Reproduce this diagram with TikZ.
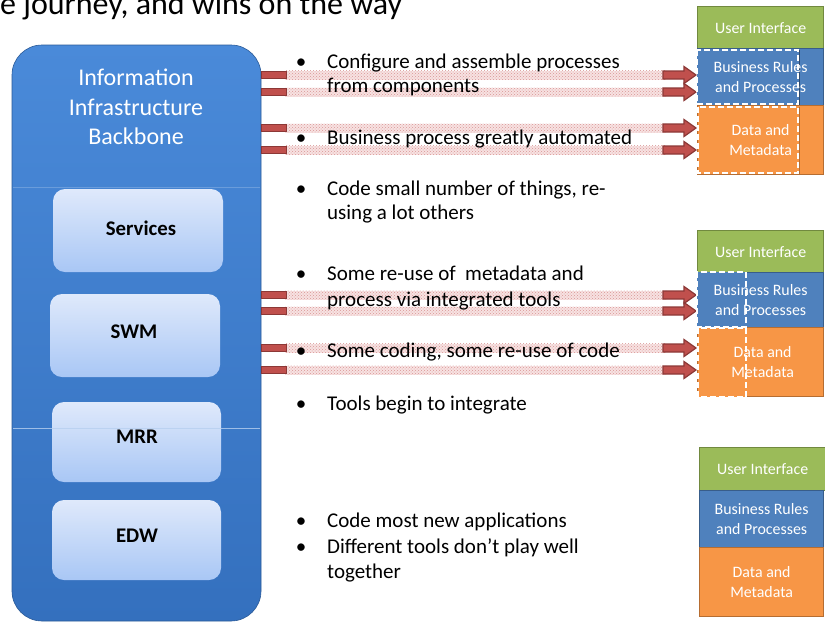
\documentclass[tikz,border=0pt]{standalone}
\usepackage{fontspec}
\setmainfont{Carlito}
\usetikzlibrary{patterns,calc}
\definecolor{uiF}{HTML}{9BBB59}\definecolor{uiB}{HTML}{71893F}
\definecolor{brF}{HTML}{4F81BD}\definecolor{brB}{HTML}{385D8A}
\definecolor{dmF}{HTML}{F79646}\definecolor{dmB}{HTML}{B66D31}
\definecolor{bbTop}{HTML}{4A8AD9}\definecolor{bbBot}{HTML}{3470BE}
\definecolor{inTop}{HTML}{DFE9FB}\definecolor{inBot}{HTML}{A9C7F5}
\definecolor{arrD}{HTML}{8C3836}\definecolor{arrF}{HTML}{C0504D}
\definecolor{bandF}{HTML}{F7E2E2}\definecolor{bandP}{HTML}{D99694}
\tikzset{
  stackfont/.style={font=\fontsize{15.9}{19.5}\selectfont},
  stackbox/.style={anchor=north west, inner sep=0, minimum width=126, line width=1.3, text=white, align=center, stackfont},
  uibox/.style={stackbox, draw=uiB, fill=uiF},
  brbox/.style={stackbox, draw=brB, fill=brF},
  dmbox/.style={stackbox, draw=dmB, fill=dmF},
  stacklabel/.style={text=white, align=center, stackfont, inner sep=0},
  frontdash/.style={draw=white, dashed, dash pattern=on 6pt off 3pt, line width=1.6},
  innerbox/.style={rounded corners=12, top color=inTop, bottom color=inBot, draw=none},
  boxlabel/.style={font=\fontsize{20.8}{24}\selectfont\bfseries, anchor=base, inner sep=0},
  bbtext/.style={font=\fontsize{24}{28}\selectfont, text=white, anchor=base, inner sep=0},
  btext/.style={font=\fontsize{21}{25}\selectfont, anchor=base west, inner sep=0},
  bul/.style={font=\fontsize{21}{25}\selectfont, anchor=base, inner sep=0},
  stubred/.style={fill=arrF, draw=arrD, line width=0.9},
  arrred/.style={fill=arrF, draw=arrD, line width=1.2, line join=miter},
}
\begin{document}
\begin{tikzpicture}[x=1pt,y=-1pt]
\useasboundingbox (0,0) rectangle (825,630);
\clip (0,0) rectangle (825,630);
\fill[white] (0,0) rectangle (825,630);

% title (cut by the top edge, as in the reference)
\node[anchor=base west, inner sep=0, font=\fontsize{32}{36}\selectfont] (title) at (0,14) {e journey, and wins on the way};

% backbone
\shade[rounded corners=30, top color=bbTop, bottom color=bbBot, draw=bbBot!80!black, line width=0.6] (12,45) rectangle (261,621);
\coordinate (bb) at (261,330);
\draw[white, opacity=0.2, line width=0.8] (13,187) -- (260,187);
\node[bbtext] (bb1) at (136,85) {Information};
\node[bbtext] (bb2) at (136,115) {Infrastructure};
\node[bbtext] (bb3) at (136,144) {Backbone};

% inner boxes
\shade[innerbox] (53,189) rectangle (223,272);
\shade[innerbox] (50,294) rectangle (220,377);
\shade[innerbox] (52,402) rectangle (221,482);
\shade[innerbox] (52,500) rectangle (221,580);
\draw[white!60!bbTop, opacity=0.8, line width=0.8] (13,428) -- (260,428);
\node[boxlabel] (svc) at (141,235) {Services};
\node[boxlabel] (swm) at (134,338) {SWM};
\node[boxlabel] (mrr) at (137,443) {MRR};
\node[boxlabel] (edw) at (137,542) {EDW};

% arrows
\foreach \yy [count=\i] in {75,92,128,150,295,311,348,370} {
  \coordinate (L\i) at (261,\yy);
  \coordinate (R\i) at (696,\yy);
  \fill[bandF] ($(L\i)+(24,-4.5)$) rectangle ($(R\i)+(-30,4.5)$);
  \fill[pattern=crosshatch dots, pattern color=bandP] ($(L\i)+(24,-4.5)$) rectangle ($(R\i)+(-30,4.5)$);
  \draw[stubred] ($(L\i)+(0,-3.5)$) rectangle ($(L\i)+(25,3.5)$);
  \draw[arrred] (R\i) -- ++(-12,-8.5) -- ++(0,4.5) -- ++(-21,0) -- ++(0,8) -- ++(21,0) -- ++(0,4.5) -- cycle;
}

% bullet text
\foreach \yy in {68,144,195,280,357,410,527,553} {\node[bul] at (301,\yy) {•};}
\node[btext] (t1a) at (327,68) {Configure and assemble processes};
\node[btext] (t1b) at (327,92) {from components};
\node[btext] (t2) at (327,144) {Business process greatly automated};
\node[btext] (t3a) at (327,195) {Code small number of things, re-};
\node[btext] (t3b) at (327,219) {using a lot others};
\node[btext] (t4a) at (327,280) {Some re-use of \ metadata and};
\node[btext] (t4b) at (327,306) {process via integrated tools};
\node[btext] (t5) at (327,357) {Some coding, some re-use of code};
\node[btext] (t6) at (327,410) {Tools begin to integrate};
\node[btext] (t7) at (327,527) {Code most new applications};
\node[btext] (t8a) at (327,553) {Different tools don’t play well};
\node[btext] (t8b) at (327,578) {together};

% stack 1
\node[uibox, minimum height=42] (ui1) at (697,6) {User Interface};
\node[brbox, minimum height=57] (br1) at (697,48) {};
\node[dmbox, minimum height=69] (dm1) at (697,105) {};
\fill[brF] (697,50) rectangle (798,104);
\draw[brB!80!black, line width=1] (799.5,50) -- (799.5,105);
\draw[frontdash] (697,50) rectangle (798,104);
\fill[dmF] (698,107) rectangle (798,173);
\draw[dmB, line width=1] (799.5,107) -- (799.5,174);
\draw[frontdash] (698,107) rectangle (798,173);
\node[stacklabel] (br1t) at (br1.center) {Business Rules\\and Processes};
\node[stacklabel] (dm1t) at (dm1.center) {Data and\\Metadata};

% stack 2
\node[uibox, minimum height=42] (ui2) at (697,230) {User Interface};
\node[brbox, minimum height=55] (br2) at (697,272) {};
\node[dmbox, minimum height=69] (dm2) at (697,327) {};
\fill[brF] (697,272) rectangle (746,327);
\draw[frontdash] (697,272) rectangle (746,327);
\fill[dmF] (698,328) rectangle (746,397);
\draw[frontdash] (698,328) rectangle (746,397);
\node[stacklabel] (br2t) at (br2.center) {Business Rules\\and Processes};
\node[stacklabel] (dm2t) at ($(dm2.center)+(2,0)$) {Data and\\Metadata};

% stack 3
\node[uibox, minimum height=43] (ui3) at (699,447) {User Interface};
\node[brbox, minimum height=57, minimum width=124] (br3) at (699,490) {Business Rules\\and Processes};
\node[dmbox, minimum height=69, minimum width=124] (dm3) at (699,547) {Data and\\Metadata};
\end{tikzpicture}
\end{document}
